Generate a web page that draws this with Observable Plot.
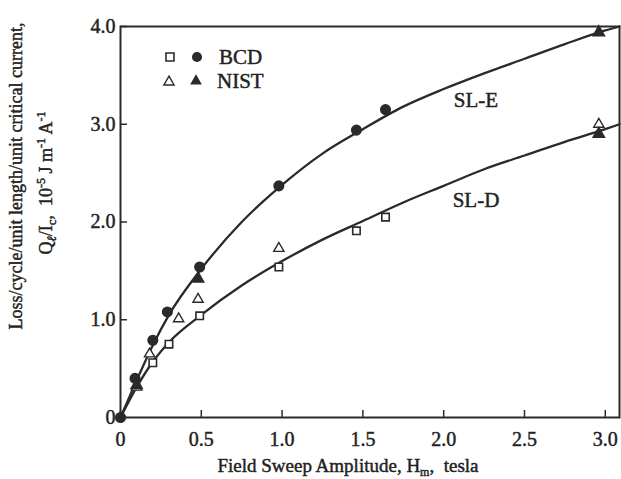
<!DOCTYPE html>
<html>
<head>
<meta charset="utf-8">
<script src="https://cdn.jsdelivr.net/npm/d3@7"></script>
<script src="https://cdn.jsdelivr.net/npm/@observablehq/plot@0.6"></script>
<style>
  html, body { margin: 0; padding: 0; background: #fff; }
  #chart { width: 621px; height: 479px; position: relative; }
  svg text { fill: #222; stroke: #222; stroke-width: 0.45px; }
</style>
</head>
<body>
<div id="chart"></div>
<script>
// ---- data ----
const xTicks = [0, 0.5, 1.0, 1.5, 2.0, 2.5, 3.0];
const yTicks = [0, 1.0, 2.0, 3.0, 4.0];

// fitted curves
const slE_x = [0, 0.1, 0.2, 0.3, 0.5, 0.75, 1.0, 1.25, 1.5, 1.75, 2.0, 2.25, 2.5, 2.75, 3.0, 3.088];
const slE_y = [0, 0.38, 0.74, 1.05, 1.52, 2.0, 2.38, 2.7, 2.95, 3.18, 3.36, 3.52, 3.67, 3.82, 3.96, 4.0];
const slD_x = [0, 0.1, 0.2, 0.3, 0.5, 0.75, 1.0, 1.25, 1.5, 1.75, 2.0, 2.25, 2.5, 2.75, 3.0, 3.088];
const slD_y = [0, 0.31, 0.57, 0.77, 1.05, 1.35, 1.6, 1.82, 2.01, 2.2, 2.37, 2.54, 2.68, 2.82, 2.95, 3.0];

// BCD, SL-D (open squares)
const bcdD_x = [0.2, 0.3, 0.49, 0.98, 1.46, 1.64];
const bcdD_y = [0.56, 0.75, 1.04, 1.54, 1.91, 2.05];
// BCD, SL-E (filled circles)
const bcdE_x = [0, 0.09, 0.2, 0.29, 0.49, 0.98, 1.46, 1.64];
const bcdE_y = [0, 0.40, 0.79, 1.08, 1.54, 2.37, 2.94, 3.15];
// NIST, SL-D (open triangles)
const nistD_x = [0.1, 0.18, 0.36, 0.48, 0.98, 2.96];
const nistD_y = [0.31, 0.65, 1.01, 1.21, 1.73, 3.0];
// NIST, SL-E (filled triangles)
const nistE_x = [0.1, 0.48, 2.96, 2.96];
const nistE_y = [0.33, 1.42, 3.94, 2.90];

const curveLabels = ["SL-E", "SL-D"];
const curveLabelX = [2.2, 2.2];
const curveLabelY = [3.25, 2.22];

const zip = (xs, ys) => xs.map((x, i) => ({x, y: ys[i]}));
const ink = "#2a2a2a";

const chart = Plot.plot({
  width: 621,
  height: 479,
  marginLeft: 120,
  marginRight: 2,
  marginTop: 26,
  marginBottom: 62,
  style: {fontFamily: "'Liberation Serif', 'DejaVu Serif', serif", fontSize: "20px", background: "#fff", color: ink},
  x: {domain: [0, 3.088], label: null},
  y: {domain: [0, 4], label: null},
  marks: [
    Plot.frame({stroke: ink, strokeWidth: 2}),
    Plot.axisX({ticks: xTicks, tickSize: -7, tickPadding: 21, strokeWidth: 1.5, tickFormat: d => d === 0 ? "0" : d.toFixed(1)}),
    Plot.axisY({ticks: yTicks, tickSize: -7, tickPadding: 12, strokeWidth: 1.5, tickFormat: d => d === 0 ? "0" : d.toFixed(1)}),
    Plot.line(zip(slE_x, slE_y), {x: "x", y: "y", curve: "monotone-x", stroke: ink, strokeWidth: 2.3}),
    Plot.line(zip(slD_x, slD_y), {x: "x", y: "y", curve: "monotone-x", stroke: ink, strokeWidth: 2.3}),
    Plot.dot(zip(bcdD_x, bcdD_y), {x: "x", y: "y", symbol: "square", r: 4.2, fill: "#fff", stroke: ink, strokeWidth: 1.6}),
    Plot.dot(zip(nistD_x, nistD_y), {x: "x", y: "y", symbol: "triangle", r: 3.8, fill: "#fff", stroke: ink, strokeWidth: 1.4}),
    Plot.dot(zip(bcdE_x, bcdE_y), {x: "x", y: "y", symbol: "circle", r: 4.8, fill: ink, stroke: ink}),
    Plot.dot(zip(nistE_x, nistE_y), {x: "x", y: "y", symbol: "triangle", r: 4.2, fill: ink, stroke: ink}),
    Plot.text(curveLabels.map((t, i) => ({t, x: curveLabelX[i], y: curveLabelY[i]})), {x: "x", y: "y", text: "t", fontSize: 21, fill: ink})
  ]
});

document.getElementById("chart").appendChild(chart);

// axis titles and legend
const svg = d3.select(chart);
const font = "'Liberation Serif', 'DejaVu Serif', serif";

const xt = svg.append("text").attr("x", 348).attr("y", 472).attr("text-anchor", "middle")
  .attr("font-family", font).attr("font-size", 19).attr("fill", ink).attr("xml:space", "preserve");
xt.append("tspan").text("Field Sweep Amplitude, H");
xt.append("tspan").attr("font-size", 12).attr("dy", 4).text("m");
xt.append("tspan").attr("dy", -4).text(",  tesla");

svg.append("text").attr("transform", "translate(22,176) rotate(-90)").attr("text-anchor", "middle")
  .attr("font-family", font).attr("font-size", 18).attr("fill", ink)
  .text("Loss/cycle/unit length/unit critical current,");

const y2 = svg.append("text").attr("transform", "translate(52,183) rotate(-90)").attr("text-anchor", "middle")
  .attr("font-family", font).attr("font-size", 18).attr("fill", ink).attr("xml:space", "preserve");
y2.append("tspan").text("Q");
y2.append("tspan").attr("font-size", 13).attr("dy", 4).attr("font-style", "italic").text("ℓ");
y2.append("tspan").attr("dy", -4).text("/I");
y2.append("tspan").attr("font-size", 13).attr("dy", 4).text("c");
y2.append("tspan").attr("dy", -4).text(",  10");
y2.append("tspan").attr("font-size", 12).attr("dy", -7).text("-5");
y2.append("tspan").attr("dy", 7).text(" J m");
y2.append("tspan").attr("font-size", 12).attr("dy", -7).text("-1");
y2.append("tspan").attr("dy", 7).text(" A");
y2.append("tspan").attr("font-size", 12).attr("dy", -7).text("-1");

const legend = svg.append("g");
const sq = d3.symbol(d3.symbolSquare, 64)(), ci = d3.symbol(d3.symbolCircle, 80)(), tr = d3.symbol(d3.symbolTriangle, 45)(), trF = d3.symbol(d3.symbolTriangle, 60)();
legend.append("path").attr("d", sq).attr("transform", "translate(170,57)").attr("fill", "#fff").attr("stroke", ink).attr("stroke-width", 1.6);
legend.append("path").attr("d", ci).attr("transform", "translate(197,57)").attr("fill", ink);
legend.append("path").attr("d", tr).attr("transform", "translate(169,82)").attr("fill", "#fff").attr("stroke", ink).attr("stroke-width", 1.4);
legend.append("path").attr("d", trF).attr("transform", "translate(196,81)").attr("fill", ink);
legend.append("text").attr("x", 219).attr("y", 64).attr("text-anchor", "start").attr("font-family", font).attr("font-size", 21).attr("fill", ink).text("BCD");
legend.append("text").attr("x", 217).attr("y", 88).attr("text-anchor", "start").attr("font-family", font).attr("font-size", 21).attr("fill", ink).text("NIST");
</script>
</body>
</html>
